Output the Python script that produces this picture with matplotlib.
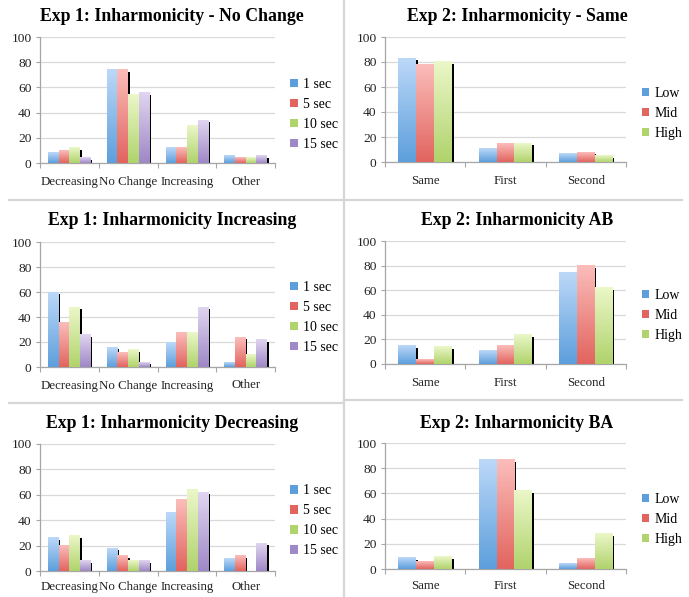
import numpy as np
import matplotlib
matplotlib.use("Agg")
import matplotlib.pyplot as plt
from matplotlib.colors import LinearSegmentedColormap
from matplotlib.transforms import ScaledTranslation
from matplotlib.lines import Line2D

plt.rcParams['font.family'] = ['Liberation Serif', 'DejaVu Serif']

# --- data -------------------------------------------------------------
exp1_categories = ['Decreasing', 'No Change', 'Increasing', 'Other']
exp1_series = ['1 sec', '5 sec', '10 sec', '15 sec']

exp2_categories = ['Same', 'First', 'Second']
exp2_series = ['Low', 'Mid', 'High']

# Exp 1, one row per duration (1, 5, 10, 15 sec)
exp1_no_change = [[8, 74, 12, 6],
                  [10, 74, 12, 4],
                  [12, 54, 30, 4],
                  [4, 56, 34, 6]]
exp1_increasing = [[60, 16, 20, 4],
                   [36, 12, 28, 24],
                   [48, 14, 28, 10],
                   [26, 4, 48, 22]]
exp1_decreasing = [[26, 18, 46, 10],
                   [20, 12, 56, 12],
                   [28, 8, 64, 0],
                   [8, 8, 62, 22]]

# Exp 2, one row per level (Low, Mid, High)
exp2_same = [[83, 11, 7],
             [78, 15, 8],
             [80, 15, 5]]
exp2_ab = [[15, 11, 74],
           [4, 15, 80],
           [14, 24, 62]]
exp2_ba = [[9, 87, 4],
           [6, 87, 8],
           [10, 62, 28]]

# gradient colours (bottom, top) per series
blue = ('#5d9fdc', '#bcd8f8')
red = ('#e2645f', '#fbbdba')
green = ('#b0d36c', '#ebf7c8')
purple = ('#9f88c6', '#e0d5f0')

W, H = 689, 597
fig = plt.figure(figsize=(W / 100, H / 100), dpi=100)


def px_axes(x0, y0, x1, y1):
    # axes rectangle given in pixel coords (top-left origin)
    return fig.add_axes([x0 / W, 1 - y1 / H, (x1 - x0) / W, (y1 - y0) / H])


def draw_panel(box, title, title_xy, categories, series, values, colors, leg_y, xpad):
    ax = px_axes(*box)
    n = len(series)
    w = 1.0 / (n + 1.5)
    x = np.arange(len(categories))
    grad = np.linspace(0, 1, 64).reshape(-1, 1)
    shadow_tr = ax.transData + ScaledTranslation(1.6 / 100, -2.2 / 100, fig.dpi_scale_trans)

    for j, (name, vals, col) in enumerate(zip(series, values, colors)):
        xs = x + (j - (n - 1) / 2) * w
        ax.bar(xs, vals, w, color='black', zorder=2, transform=shadow_tr)
        bars = ax.bar(xs, vals, w, color=col[0], label=name, zorder=3, linewidth=0)
        cmap = LinearSegmentedColormap.from_list(name, [col[0], col[1]])
        for b in bars:
            h = b.get_height()
            if h <= 0:
                continue
            ax.imshow(grad, extent=(b.get_x(), b.get_x() + b.get_width(), 0, h),
                      origin='lower', aspect='auto', cmap=cmap, zorder=3.5,
                      interpolation='bilinear')

    ax.set_xlim(-0.5, len(categories) - 0.5)
    ax.set_ylim(0, 100)
    ax.set_yticks(range(0, 101, 20))
    ax.set_xticks(x)
    ax.set_xticklabels(categories)
    ax.set_xticks(np.arange(len(categories) + 1) - 0.5, minor=True)
    ax.tick_params(axis='x', which='major', length=0, pad=xpad, labelsize=9.3,
                   labelcolor='#222222')
    ax.tick_params(axis='x', which='minor', length=3.5, color='#a6a6a6', width=0.8)
    ax.tick_params(axis='y', length=3, color='#a6a6a6', width=0.8, pad=3,
                   labelsize=9.7, labelcolor='#222222')
    ax.grid(axis='y', color='#d9d9d9', linewidth=0.9, zorder=0)
    ax.set_axisbelow(True)
    for s in ('top', 'right'):
        ax.spines[s].set_visible(False)
    for s in ('left', 'bottom'):
        ax.spines[s].set_color('#a6a6a6')
        ax.spines[s].set_linewidth(0.9)

    ax.legend(loc='center left', bbox_to_anchor=(1.065, leg_y), frameon=False,
              fontsize=10, handlelength=0.55, handleheight=0.55,
              handletextpad=0.35, labelspacing=0.5, borderpad=0,
              borderaxespad=0)

    fig.text(title_xy[0] / W, 1 - title_xy[1] / H, title, ha='center',
             va='baseline', fontsize=12.8, fontweight='bold')
    return ax


exp1_colors = [blue, red, green, purple]
exp2_colors = [blue, red, green]

draw_panel((40, 37, 275, 163), 'Exp 1: Inharmonicity - No Change', (172, 21),
           exp1_categories, exp1_series, exp1_no_change, exp1_colors, 0.385, 9.5)
draw_panel((385, 37, 626, 162), 'Exp 2: Inharmonicity - Same', (517, 21),
           exp2_categories, exp2_series, exp2_same, exp2_colors, 0.39, 9.5)
draw_panel((40, 242, 275, 367), 'Exp 1: Inharmonicity Increasing', (172, 225),
           exp1_categories, exp1_series, exp1_increasing, exp1_colors, 0.395, 9)
draw_panel((385, 241, 626, 364), 'Exp 2: Inharmonicity AB', (517, 225),
           exp2_categories, exp2_series, exp2_ab, exp2_colors, 0.395, 9.5)
draw_panel((40, 444, 275, 571), 'Exp 1: Inharmonicity Decreasing', (172, 428),
           exp1_categories, exp1_series, exp1_decreasing, exp1_colors, 0.395, 7.5)
draw_panel((385, 443, 626, 569), 'Exp 2: Inharmonicity BA', (517, 428),
           exp2_categories, exp2_series, exp2_ba, exp2_colors, 0.395, 8)

# panel separators
sep = dict(color='#d6d6d6', linewidth=1.6, transform=fig.transFigure)
fig.add_artist(Line2D([344 / W, 344 / W], [0, 1], **sep))
fig.add_artist(Line2D([9 / W, 682 / W], [1 - 200 / H, 1 - 200 / H], **sep))
fig.add_artist(Line2D([9 / W, 344 / W], [1 - 403 / H, 1 - 403 / H], **sep))
fig.add_artist(Line2D([344 / W, 682 / W], [1 - 400 / H, 1 - 400 / H], **sep))

fig.savefig('out.png', dpi=100)
